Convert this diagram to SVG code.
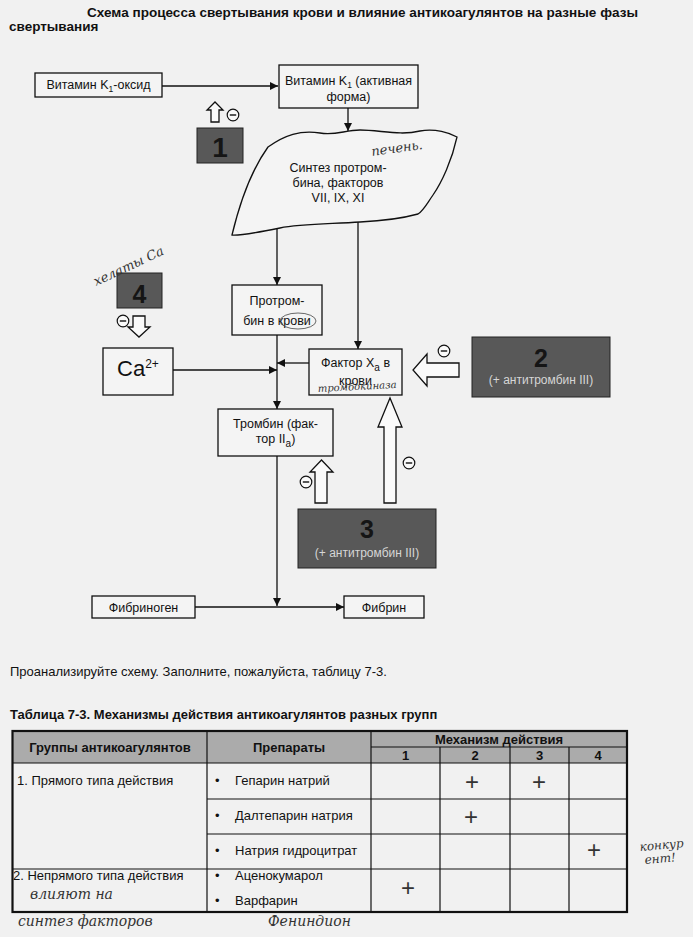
<svg xmlns="http://www.w3.org/2000/svg" width="693" height="937" viewBox="0 0 693 937">
<style>
text{font-family:"Liberation Sans",Arial,sans-serif;fill:#111}
.box{fill:#f4f4f4;stroke:#111;stroke-width:1.3}
.dark{fill:#585858;stroke:#222;stroke-width:1}
.t{font-size:12.5px;text-anchor:middle}
.num{font-weight:bold;text-anchor:middle;fill:#151515}
.sub{font-size:12px;text-anchor:middle;fill:#d6d6d6}
.line{stroke:#111;stroke-width:1.3;fill:none}
.hollow{fill:#fafafa;stroke:#111;stroke-width:1.3}
.hand{font-family:"DejaVu Serif",serif;font-style:italic;fill:#333}
.tl{stroke:#111;stroke-width:1.2}
.th{font-size:13px;font-weight:bold;text-anchor:middle}
.td{font-size:13px}
.cross{font-size:24px;text-anchor:middle;fill:#333}
</style>
<defs>
<marker id="ah" viewBox="0 0 10 10" refX="10" refY="5" markerWidth="8" markerHeight="8" markerUnits="userSpaceOnUse" orient="auto">
<path d="M0,0 L10,5 L0,10 Z" fill="#111"/>
</marker>
<g id="minus">
<circle cx="0" cy="0" r="5.8" fill="#fafafa" stroke="#111" stroke-width="1.2"/>
<line x1="-3.2" y1="0" x2="3.2" y2="0" stroke="#111" stroke-width="1.4"/>
</g>
</defs>
<rect x="0" y="0" width="693" height="937" fill="#f1f1f1"/>

<text x="87" y="17" font-size="13.5" font-weight="bold" textLength="551" lengthAdjust="spacingAndGlyphs">Схема процесса свертывания крови и влияние антикоагулянтов на разные фазы</text>
<text x="9" y="31" font-size="13.5" font-weight="bold">свертывания</text>

<g id="connectors">
<line class="line" x1="162" y1="86" x2="278" y2="86" marker-end="url(#ah)"/>
<line class="line" x1="348" y1="108" x2="348" y2="131" marker-end="url(#ah)"/>
<line class="line" x1="277" y1="229" x2="277" y2="285" marker-end="url(#ah)"/>
<line class="line" x1="358" y1="222" x2="358" y2="349" marker-end="url(#ah)"/>
<line class="line" x1="277" y1="335" x2="277" y2="409" marker-end="url(#ah)"/>
<line class="line" x1="173" y1="370" x2="277" y2="370" marker-end="url(#ah)"/>
<line class="line" x1="309" y1="363" x2="277" y2="363" marker-end="url(#ah)"/>
<line class="line" x1="277" y1="456" x2="277" y2="606" marker-end="url(#ah)"/>
<line class="line" x1="195" y1="607" x2="344" y2="607" marker-end="url(#ah)"/>
<!-- hollow inhibition arrows -->
<polygon class="hollow" points="211,122 211,110 207,110 215,102 223,110 219,110 219,122"/>
<polygon class="hollow" points="133,316 145,316 145,327 150,327 139,337 128,327 133,327"/>
<polygon class="hollow" points="459,363 427,363 427,354 413,370 427,386 427,377 459,377"/>
<polygon class="hollow" points="315,503 315,472 310,472 321.5,460 333,472 327,472 327,503"/>
<polygon class="hollow" points="384,503 384,427 378,427 390,398 402,427 396,427 396,503"/>
<use href="#minus" x="233" y="115"/>
<use href="#minus" x="123" y="321"/>
<use href="#minus" x="444" y="351"/>
<use href="#minus" x="306" y="482"/>
<use href="#minus" x="409" y="463"/>
</g>

<g id="vitk-oxide"><rect class="box" x="35" y="73" width="127" height="24"/>
<text class="t" x="98.5" y="89">Витамин K<tspan font-size="8.5" dy="3">1</tspan><tspan dy="-3">-оксид</tspan></text></g>

<g id="vitk-active"><rect class="box" x="279" y="65" width="139" height="43"/>
<text class="t" x="348.5" y="85">Витамин K<tspan font-size="8.5" dy="3">1</tspan><tspan dy="-3"> (активная</tspan></text>
<text class="t" x="348.5" y="101">форма)</text></g>

<g id="block1"><rect class="dark" x="197" y="128" width="46" height="35"/>
<text class="num" x="220" y="157" font-size="28">1</text></g>

<g id="synthesis">
<path class="box" d="M232,235 C238,210 250,172 268,147 C285,135 300,130 320,133 C335,136 345,130 360,130 C380,130 400,136 420,131 C435,128 450,133 457,137 C452,160 442,182 433,195 C426,205 423,211 418,214 C400,219 380,221 360,222 C330,224 300,224 280,228 C260,232 240,236 232,235 Z"/>
<text class="t" x="338" y="172">Синтез протром-</text>
<text class="t" x="338" y="187">бина, факторов</text>
<text class="t" x="338" y="202">VII, IX, XI</text></g>

<g id="prothrombin"><rect class="box" x="232" y="285" width="90" height="50"/>
<text class="t" x="277" y="305">Протром-</text>
<text class="t" x="277" y="325">бин в крови</text>
<ellipse cx="298" cy="321" rx="18" ry="8" fill="none" stroke="#444" stroke-width="0.8"/></g>

<g id="block4"><rect class="dark" x="117" y="273" width="45" height="35"/>
<text class="num" x="139.5" y="303" font-size="25">4</text></g>

<g id="calcium"><rect class="box" x="103" y="348" width="70" height="47"/>
<text x="117" y="376" font-size="22">Ca<tspan font-size="12" dy="-8">2+</tspan></text></g>

<g id="factor-xa"><rect class="box" x="309" y="349" width="93" height="46"/>
<text class="t" x="355.5" y="367">Фактор X<tspan font-size="10" dy="4">a</tspan><tspan dy="-4"> в</tspan></text>
<text class="t" x="355.5" y="385">крови</text></g>

<g id="block2"><rect class="dark" x="472" y="337" width="138" height="60"/>
<text class="num" x="541" y="367" font-size="25">2</text>
<text class="sub" x="541" y="384">(+ антитромбин III)</text></g>

<g id="thrombin"><rect class="box" x="218" y="409" width="115" height="47"/>
<text class="t" x="275.5" y="428">Тромбин (фак-</text>
<text class="t" x="275.5" y="443">тор II<tspan font-size="10" dy="4">a</tspan><tspan dy="-4">)</tspan></text></g>

<g id="block3"><rect class="dark" x="298" y="509" width="138" height="59"/>
<text class="num" x="367" y="538" font-size="25">3</text>
<text class="sub" x="367" y="557">(+ антитромбин III)</text></g>

<g id="fibrinogen"><rect class="box" x="92" y="596" width="103" height="22"/>
<text class="t" x="143.5" y="612" font-size="12">Фибриноген</text></g>

<g id="fibrin"><rect class="box" x="344" y="596" width="80" height="22"/>
<text class="t" x="384" y="612" font-size="12">Фибрин</text></g>

<!-- handwritten notes -->
<text class="hand" x="372" y="156" font-size="13" transform="rotate(-8 372 156)">печень.</text>
<text class="hand" x="96" y="286" font-size="13" transform="rotate(-25 96 286)">хелаты Ca</text>
<text class="hand" x="318" y="392" font-size="10" transform="rotate(-3 318 392)">тромбокиназа</text>

<text x="10" y="676" font-size="13">Проанализируйте схему. Заполните, пожалуйста, таблицу 7-3.</text>
<text x="10" y="719" font-size="13" font-weight="bold">Таблица 7-3. Механизмы действия антикоагулянтов разных групп</text>

<g id="table">
<rect x="12.5" y="731" width="614.5" height="32" fill="#ababab"/>
<line class="tl" x1="371" y1="747" x2="627" y2="747"/>
<line class="tl" x1="12.5" y1="763" x2="627" y2="763" stroke-width="1.6"/>
<line class="tl" x1="207" y1="731" x2="207" y2="912"/>
<line class="tl" x1="371" y1="731" x2="371" y2="912"/>
<line class="tl" x1="440" y1="747" x2="440" y2="912"/>
<line class="tl" x1="510" y1="747" x2="510" y2="912"/>
<line class="tl" x1="569" y1="747" x2="569" y2="912"/>
<line class="tl" x1="207" y1="799" x2="627" y2="799"/>
<line class="tl" x1="207" y1="834" x2="627" y2="834"/>
<line class="tl" x1="12.5" y1="869" x2="627" y2="869"/>
<rect x="12.5" y="731" width="614.5" height="181" fill="none" stroke="#111" stroke-width="2.2"/>
<text class="th" x="110" y="752">Группы антикоагулянтов</text>
<text class="th" x="289" y="752">Препараты</text>
<text class="th" x="499" y="744">Механизм действия</text>
<text class="th" x="405.5" y="760">1</text>
<text class="th" x="475" y="760">2</text>
<text class="th" x="539.5" y="760">3</text>
<text class="th" x="598" y="760">4</text>
<text class="td" x="17" y="785">1.  Прямого типа действия</text>
<text class="td" x="13" y="880">2.  Непрямого типа действия</text>
<text class="td" x="215" y="785">•</text><text class="td" x="235" y="785">Гепарин натрий</text>
<text class="td" x="215" y="820">•</text><text class="td" x="235" y="820">Далтепарин натрия</text>
<text class="td" x="215" y="855">•</text><text class="td" x="235" y="855">Натрия гидроцитрат</text>
<text class="td" x="215" y="880">•</text><text class="td" x="235" y="880">Аценокумарол</text>
<text class="td" x="215" y="905">•</text><text class="td" x="235" y="905">Варфарин</text>
<text class="cross" x="472" y="790">+</text>
<text class="cross" x="539" y="790">+</text>
<text class="cross" x="471" y="825">+</text>
<text class="cross" x="594" y="858">+</text>
<text class="cross" x="408" y="896">+</text>
</g>

<text class="hand" x="30" y="899" font-size="14">влияют на</text>
<text class="hand" x="18" y="926" font-size="14">синтез факторов</text>
<text class="hand" x="268" y="926" font-size="14">Фениндион</text>
<text class="hand" x="640" y="851" font-size="12" transform="rotate(-5 640 851)">конкур</text>
<text class="hand" x="645" y="864" font-size="12" transform="rotate(-5 645 864)">ент!</text>
</svg>
